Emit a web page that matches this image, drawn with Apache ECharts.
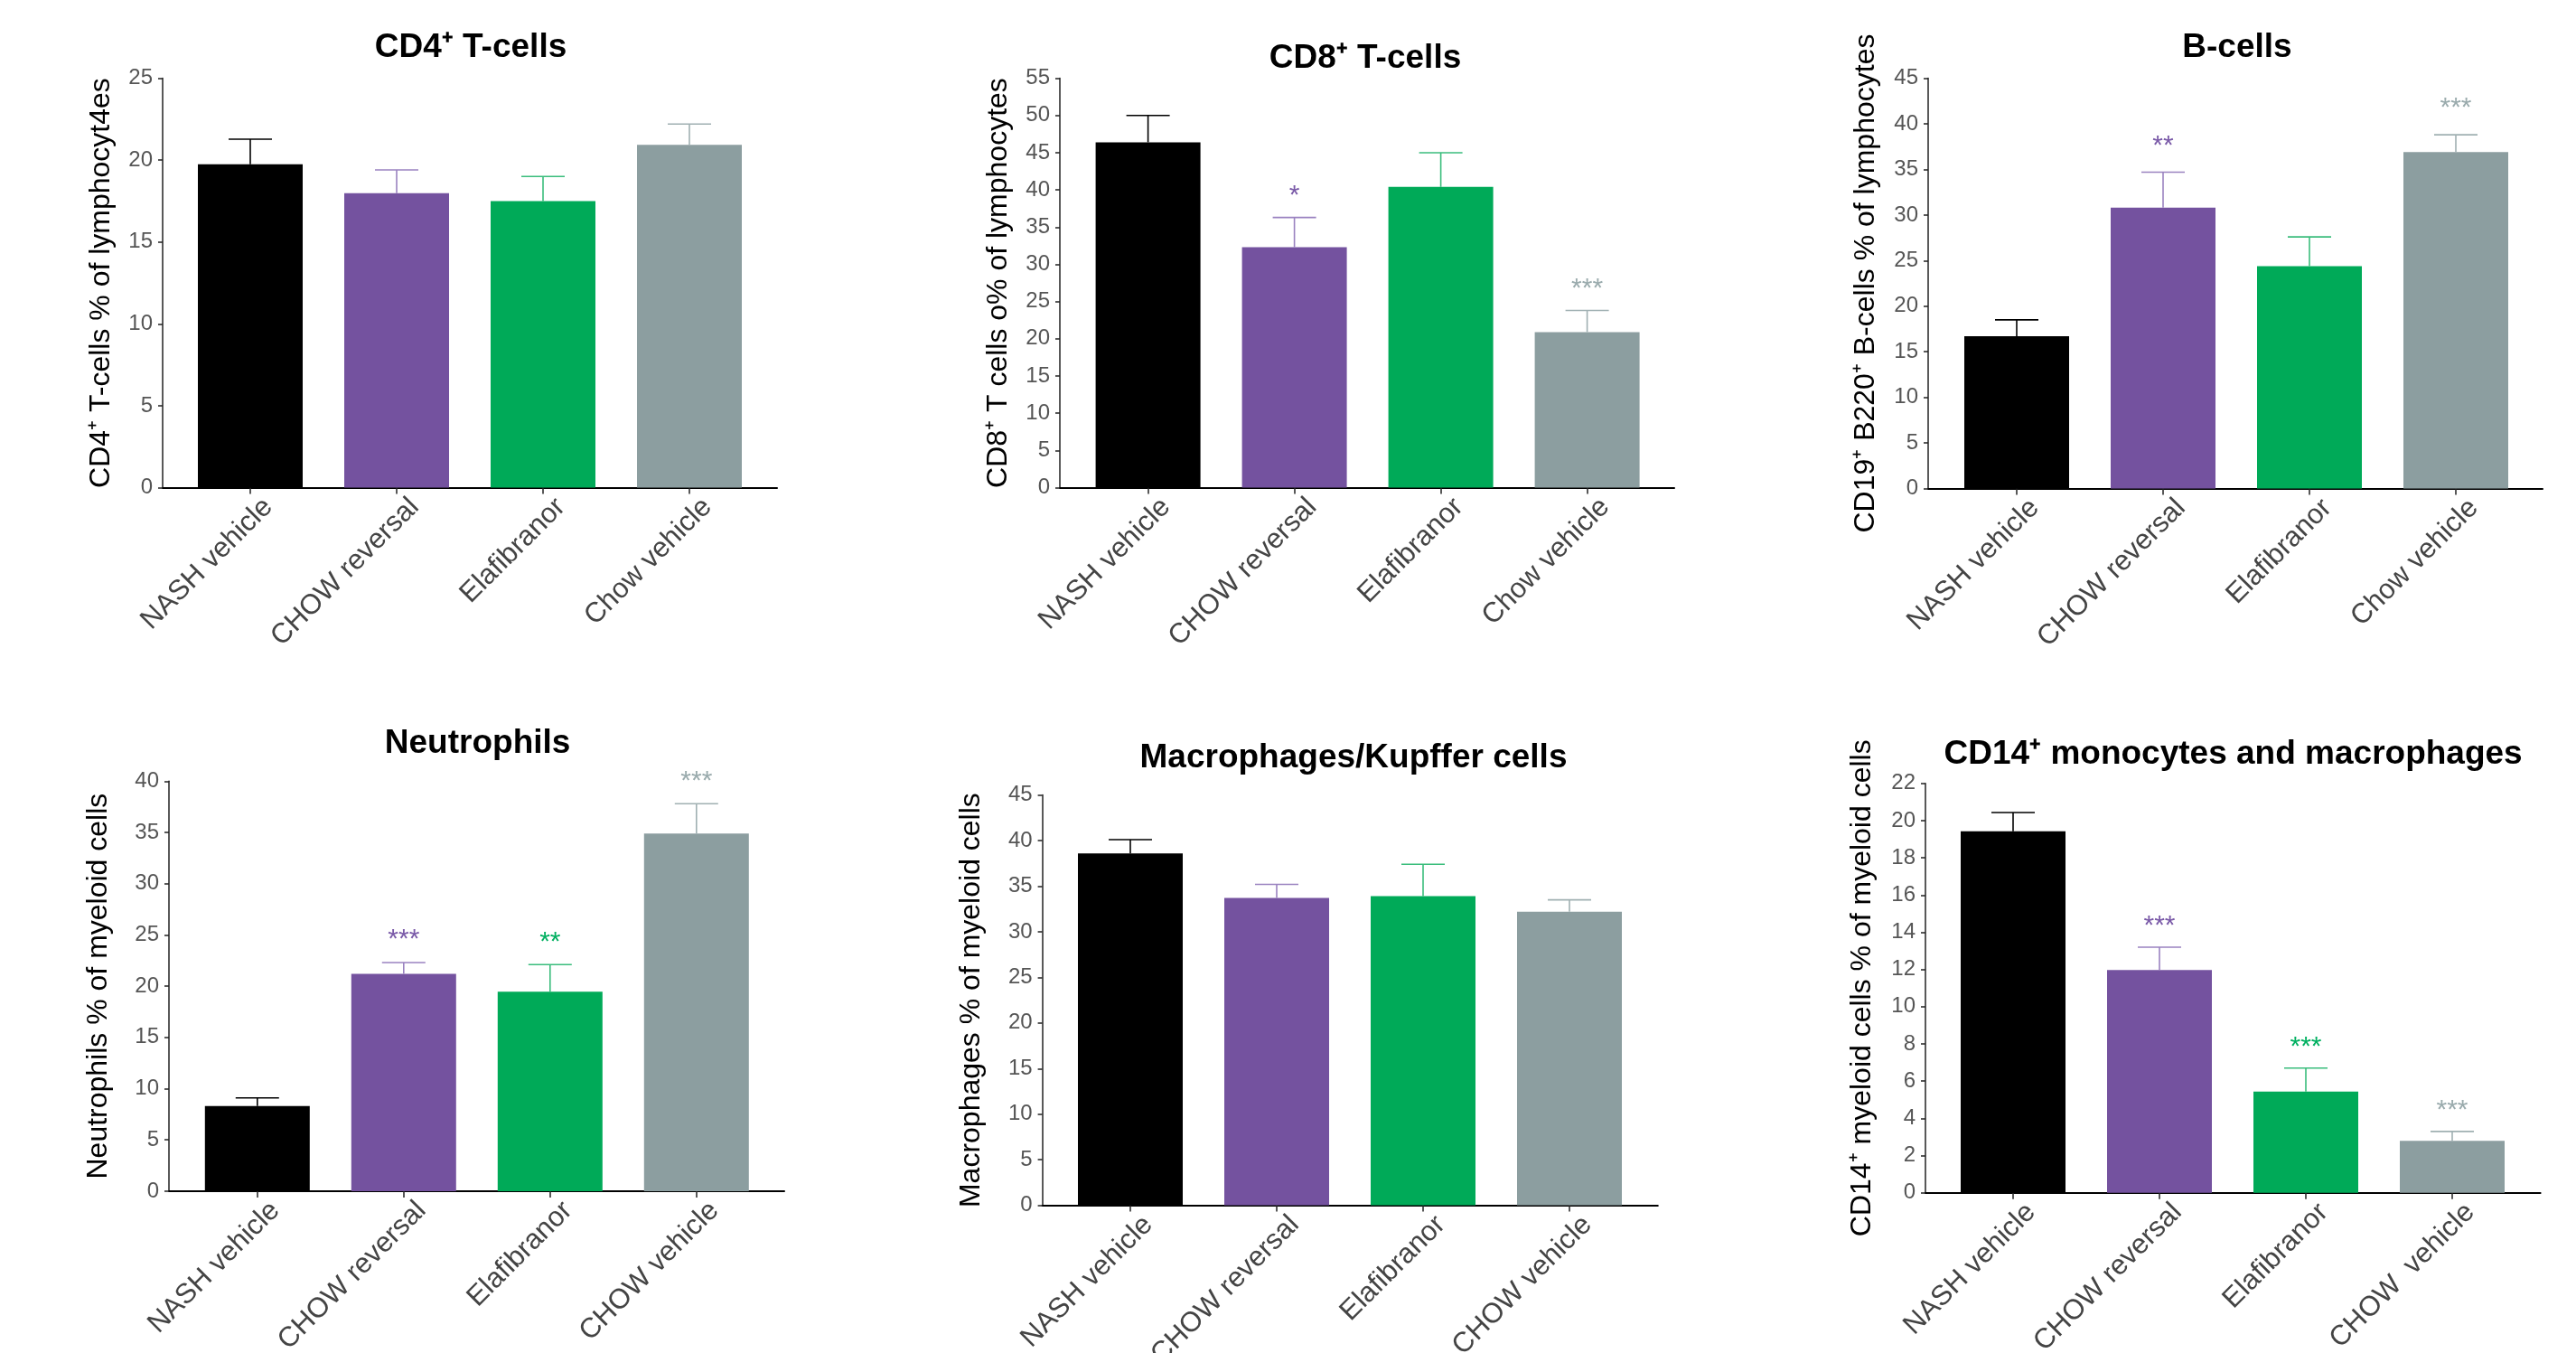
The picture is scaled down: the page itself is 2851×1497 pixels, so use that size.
<!DOCTYPE html>
<html>
<head>
<meta charset="utf-8">
<script src="https://cdn.jsdelivr.net/npm/echarts@6/dist/echarts.min.js"></script>
<style>
html,body{margin:0;padding:0;background:#fff;}
#chart{width:2851px;height:1497px;}
</style>
</head>
<body>
<div id="chart"></div>
<script>
// ---------- DATA ----------
const catsChowLower = ['NASH vehicle', 'CHOW reversal', 'Elafibranor', 'Chow vehicle'];
const catsChowUpper = ['NASH vehicle', 'CHOW reversal', 'Elafibranor', 'CHOW vehicle'];
const catsChowUpper2 = ['NASH vehicle', 'CHOW reversal', 'Elafibranor', 'CHOW  vehicle'];

const cd4Mean = [19.75, 17.98, 17.5, 20.93];
const cd4Sem = [1.53, 1.42, 1.5, 1.27];
const cd4Stars = ['', '', '', ''];

const cd8Mean = [46.4, 32.3, 40.4, 20.9];
const cd8Sem = [3.6, 4.0, 4.6, 2.9];
const cd8Stars = ['', '*', '', '***'];

const bMean = [16.7, 30.8, 24.4, 36.9];
const bSem = [1.8, 3.9, 3.2, 1.9];
const bStars = ['', '**', '', '***'];

const neutMean = [8.3, 21.2, 19.45, 34.9];
const neutSem = [0.8, 1.1, 2.65, 2.9];
const neutStars = ['', '***', '**', '***'];

const macMean = [38.6, 33.7, 33.9, 32.2];
const macSem = [1.5, 1.5, 3.5, 1.3];
const macStars = ['', '', '', ''];

const cd14Mean = [19.43, 11.97, 5.44, 2.8];
const cd14Sem = [1.0, 1.23, 1.26, 0.5];
const cd14Stars = ['', '***', '***', '***'];

const yMax = [25, 55, 45, 40, 45, 22];
const yStep = [5, 5, 5, 5, 5, 2];

const titles = ['CD4\u207A T-cells', 'CD8\u207A T-cells', 'B-cells', 'Neutrophils', 'Macrophages/Kupffer cells', 'CD14\u207A monocytes and macrophages'];
const yNames = [
  'CD4\u207A T-cells % of lymphocyt4es',
  'CD8\u207A T cells o% of lymphocytes',
  'CD19\u207A B220\u207A B-cells % of lymphocytes',
  'Neutrophils % of myeloid cells',
  'Macrophages % of myeloid cells',
  'CD14\u207A myeloid cells % of myeloid cells'
];

const panels = [
  {cats: catsChowLower, mean: cd4Mean, sem: cd4Sem, stars: cd4Stars},
  {cats: catsChowLower, mean: cd8Mean, sem: cd8Sem, stars: cd8Stars},
  {cats: catsChowLower, mean: bMean, sem: bSem, stars: bStars},
  {cats: catsChowUpper, mean: neutMean, sem: neutSem, stars: neutStars},
  {cats: catsChowUpper, mean: macMean, sem: macSem, stars: macStars},
  {cats: catsChowUpper2, mean: cd14Mean, sem: cd14Sem, stars: cd14Stars}
];

// ---------- STYLE / LAYOUT ----------
const barColors = ['#000000', '#74529f', '#00aa58', '#8c9ea0'];
const errColors = ['#000000', '#9a82c0', '#3abd7c', '#a0b0b2'];
const starColors = ['#000000', '#7a5aa8', '#00b060', '#9aabad'];
const FONT = '"Liberation Sans", Arial, Helvetica, sans-serif';

// axisX, top, zero, xEnd, firstCenter, nameGap, title centre, star gap
const layout = [
  {ax: 180, top: 86.6, zero: 539.5, xe: 860, c0: 277, ng: 52, tx: 521, ty: 53, sg: 24},
  {ax: 1173, top: 86.6, zero: 539.5, xe: 1853, c0: 1270.6, ng: 52, tx: 1511, ty: 65, sg: 24},
  {ax: 2134, top: 86.6, zero: 540.5, xe: 2814, c0: 2232, ng: 53, tx: 2476, ty: 53, sg: 29},
  {ax: 187, top: 864.3, zero: 1317.9, xe: 868, c0: 284.8, ng: 62, tx: 528.6, ty: 822.5, sg: 25},
  {ax: 1153.6, top: 879.6, zero: 1333.6, xe: 1834.8, c0: 1251, ng: 62, tx: 1498, ty: 839, sg: 24},
  {ax: 2131, top: 866.7, zero: 1319.8, xe: 2811.6, c0: 2228, ng: 54, tx: 2471.6, ty: 834.4, sg: 23}
];
const BAND = 162;
const BAR_W = 116;
const CAP_HALF = 24;

const grid = [], xAxis = [], yAxis = [], series = [], graphic = [];

panels.forEach((p, i) => {
  const L = layout[i];
  const h = L.zero - L.top;
  const gOuter = 2 * i, gInner = 2 * i + 1;
  grid.push({left: L.ax, top: L.top, width: L.xe - L.ax, height: h, containLabel: false, outerBoundsMode: 'none'});
  grid.push({left: L.c0 - BAND / 2, top: L.top, width: BAND * 4, height: h, containLabel: false, outerBoundsMode: 'none'});

  xAxis.push({
    type: 'value', gridIndex: gOuter, min: 0, max: 1,
    axisLine: {show: true, onZero: false, lineStyle: {color: '#000', width: 2}},
    axisTick: {show: false}, axisLabel: {show: false}, splitLine: {show: false}
  });
  xAxis.push({
    type: 'category', gridIndex: gInner, data: p.cats, boundaryGap: true,
    axisLine: {show: false},
    axisTick: {show: true, alignWithLabel: true, length: 7, lineStyle: {color: '#222', width: 1.5}},
    axisLabel: {interval: 0, rotate: 45, fontSize: 31, color: '#444', fontFamily: FONT, margin: -3,
      lineHeight: 56, align: 'right', verticalAlign: 'top', hideOverlap: false}
  });

  yAxis.push({
    type: 'value', gridIndex: gOuter, min: 0, max: yMax[i], interval: yStep[i],
    axisLine: {show: true, lineStyle: {color: '#222', width: 1.5}},
    axisTick: {show: true, length: 5, lineStyle: {color: '#222', width: 1.5}},
    axisLabel: {fontSize: 24, color: '#555', fontFamily: FONT, margin: 11},
    splitLine: {show: false},
    name: yNames[i], nameLocation: 'middle', nameGap: L.ng,
    nameTextStyle: {fontSize: 32, color: '#000', fontFamily: FONT}
  });
  yAxis.push({
    type: 'value', gridIndex: gInner, min: 0, max: yMax[i], interval: yStep[i], show: false
  });

  series.push({
    type: 'bar', xAxisIndex: gInner, yAxisIndex: gInner, barWidth: BAR_W,
    silent: true, animation: false,
    data: p.mean.map((v, k) => ({value: v, itemStyle: {color: barColors[k]}}))
  });

  const stars = p.stars;
  const sg = L.sg;
  series.push({
    type: 'custom', xAxisIndex: gInner, yAxisIndex: gInner, silent: true, animation: false, clip: false, z: 5,
    data: p.mean.map((v, k) => [k, v, p.sem[k]]),
    encode: {x: 0, y: 1},
    renderItem: function (params, api) {
      const k = api.value(0);
      const m = api.value(1);
      const e = api.value(2);
      const base = api.coord([k, m]);
      const top = api.coord([k, m + e]);
      const col = errColors[k];
      const children = [
        {type: 'line', shape: {x1: base[0], y1: base[1], x2: top[0], y2: top[1]}, style: {stroke: col, lineWidth: 1.6}},
        {type: 'line', shape: {x1: top[0] - CAP_HALF, y1: top[1], x2: top[0] + CAP_HALF, y2: top[1]}, style: {stroke: col, lineWidth: 1.6}}
      ];
      if (stars[params.dataIndex]) {
        children.push({
          type: 'text',
          x: top[0], y: top[1] - sg,
          style: {text: stars[params.dataIndex], fill: starColors[k], font: '30px ' + FONT, textAlign: 'center', textVerticalAlign: 'middle'}
        });
      }
      return {type: 'group', children: children};
    }
  });

  graphic.push({
    type: 'text', x: L.tx, y: L.ty, silent: true,
    style: {text: titles[i], fill: '#000', font: 'bold 37px ' + FONT, textAlign: 'center', textVerticalAlign: 'middle'}
  });
});

const chart = echarts.init(document.getElementById('chart'), null, {renderer: 'canvas'});
chart.setOption({
  animation: false,
  backgroundColor: '#ffffff',
  grid: grid, xAxis: xAxis, yAxis: yAxis, series: series, graphic: graphic
});
</script>
</body>
</html>
